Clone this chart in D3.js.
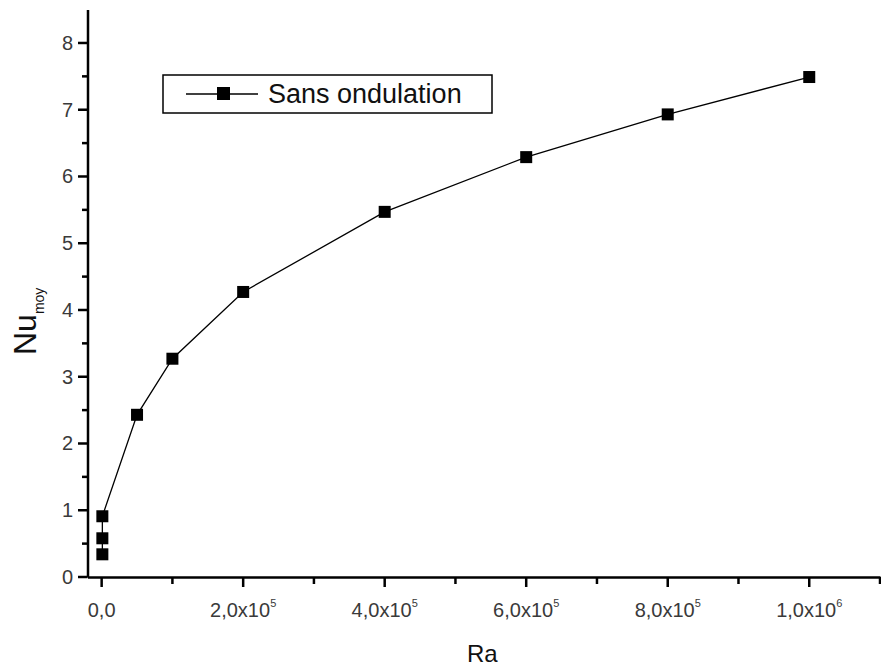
<!DOCTYPE html>
<html><head><meta charset="utf-8">
<script src="https://cdn.jsdelivr.net/npm/d3@7"></script>
<style>body{margin:0;background:#fff}svg{display:block}text{font-family:"Liberation Sans",Arial,sans-serif}</style>
</head><body><svg id="c" width="881" height="669"></svg>
<script>
const raValues = [1e3, 1e3, 1e3, 5e4, 1e5, 2e5, 4e5, 6e5, 8e5, 1e6];
const nuValues = [0.34, 0.58, 0.91, 2.43, 3.27, 4.27, 5.47, 6.29, 6.93, 7.49];
const xTicks = [0, 2e5, 4e5, 6e5, 8e5, 1e6];
const xTickLabels = ["0,0", "2,0x10", "4,0x10", "6,0x10", "8,0x10", "1,0x10"];
const xTickExp = ["", "5", "5", "5", "5", "6"];
const yTicks = [0, 1, 2, 3, 4, 5, 6, 7, 8];
const seriesName = "Sans ondulation";

const svg = d3.select("#c");
const x = d3.scaleLinear().domain([-2e4, 1.1e6]).range([87.5, 880]);
const y = d3.scaleLinear().domain([0, 8.5]).range([577, 9.6]);

// axes
const xAxis = svg.append("g").attr("transform", "translate(0,577)")
  .call(d3.axisBottom(x).tickValues(d3.range(0, 1.1e6 + 1, 1e5)).tickSize(0).tickFormat(""));
xAxis.select(".domain").attr("stroke", "#000").attr("stroke-width", 2.5);
svg.append("g").selectAll("line").data(d3.range(0, 1.1e6 + 1, 1e5)).join("line")
  .attr("x1", d => x(d)).attr("x2", d => x(d)).attr("y1", 577)
  .attr("y2", (d, i) => i % 2 === 0 ? 587 : 584).attr("stroke", "#000").attr("stroke-width", 2.5);

const yAxis = svg.append("g").attr("transform", "translate(87.5,0)")
  .call(d3.axisLeft(y).tickValues(d3.range(0, 8.01, 0.5)).tickSize(0).tickFormat(""));
yAxis.select(".domain").attr("stroke", "#000").attr("stroke-width", 2.5);
svg.append("g").selectAll("line").data(d3.range(0, 8.01, 0.5)).join("line")
  .attr("y1", d => y(d)).attr("y2", d => y(d)).attr("x1", 87.5)
  .attr("x2", (d, i) => i % 2 === 0 ? 78 : 82).attr("stroke", "#000").attr("stroke-width", 2.5);

// y tick labels
svg.append("g").selectAll("text").data(yTicks).join("text")
  .attr("x", 73).attr("y", d => y(d) + 7).attr("text-anchor", "end")
  .attr("font-size", 20).attr("fill", "#3a3a3a").text(d => d);

// x tick labels
const xl = svg.append("g").selectAll("text").data(xTicks).join("text")
  .attr("x", d => x(d)).attr("y", 617).attr("text-anchor", "middle")
  .attr("font-size", 20).attr("fill", "#3a3a3a");
xl.append("tspan").text((d, i) => xTickLabels[i]);
xl.append("tspan").attr("dy", -10).attr("font-size", 11).text((d, i) => xTickExp[i]);

// axis titles
svg.append("text").attr("x", 467).attr("y", 662).attr("font-size", 24)
  .attr("font-family", "DejaVu Sans").attr("fill", "#111").text("Ra");
const yt = svg.append("text").attr("transform", "translate(36,355) rotate(-90)")
  .attr("text-anchor", "start").attr("font-size", 32).attr("fill", "#111");
yt.append("tspan").text("Nu");
yt.append("tspan").attr("dy", 8).attr("font-size", 14).text("moy");

// line + markers
const line = d3.line().x((d, i) => x(raValues[i])).y(d => y(d));
svg.append("path").datum(nuValues).attr("d", line).attr("fill", "none")
  .attr("stroke", "#000").attr("stroke-width", 1.3);
svg.append("g").selectAll("rect").data(nuValues).join("rect")
  .attr("x", (d, i) => x(raValues[i]) - 6).attr("y", d => y(d) - 6)
  .attr("width", 12).attr("height", 12).attr("fill", "#000");

// legend
const lg = svg.append("g");
lg.append("rect").attr("x", 163).attr("y", 75).attr("width", 329).attr("height", 38)
  .attr("fill", "#fff").attr("stroke", "#000").attr("stroke-width", 1.5);
lg.append("line").attr("x1", 186).attr("x2", 258).attr("y1", 94).attr("y2", 94)
  .attr("stroke", "#000").attr("stroke-width", 1.3);
lg.append("rect").attr("x", 217).attr("y", 87).attr("width", 13).attr("height", 13).attr("fill", "#000");
lg.append("text").attr("x", 268).attr("y", 103).attr("font-size", 27).attr("fill", "#111").text(seriesName);
</script></body></html>
